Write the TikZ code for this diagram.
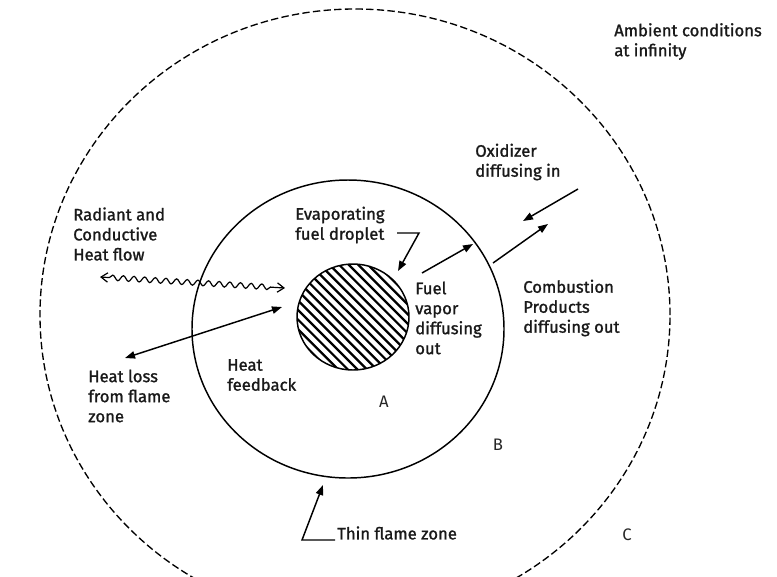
\documentclass[tikz,border=0pt]{standalone}
\usepackage{fontspec}
\setmainfont{Fira Sans}
\newfontfamily\lblfont{Fira Sans}[FakeBold=1.3]
\usetikzlibrary{arrows.meta,decorations.pathmorphing}
\begin{document}
\begin{tikzpicture}[x=0.75pt,y=-0.75pt,
  lbl/.style={anchor=west,align=left,inner sep=0pt,font=\lblfont\fontsize{12.5}{15}\selectfont,text=black!90},
  letter/.style={inner sep=0pt,font=\fontsize{12.5}{15}\selectfont,text=black!85},
  arr/.style={line width=1.1pt,-{Triangle[length=7.5pt,width=5.5pt]}},
  dblarr/.style={line width=1.1pt,{Triangle[length=7.5pt,width=5.5pt]}-{Triangle[length=7.5pt,width=5.5pt]}},
  boundary/.style={line width=1.1pt},
  ambient/.style={line width=1pt,dash pattern=on 5.5pt off 2.5pt},
  wavy/.style={line width=0.9pt,decorate,decoration={snake,amplitude=2pt,segment length=8pt,pre length=7pt,post length=7pt},
    {Straight Barb[length=5pt,width=7pt]}-{Straight Barb[length=5pt,width=7pt]}},
  hatch/.style={line width=1.7pt}
]
\useasboundingbox (0,0) rectangle (777,576);
\clip (0,0) rectangle (777,576);

% centres
\coordinate (cInf) at (355,315);
\coordinate (cFlame) at (348,329);
\coordinate (drop) at (353,317);

% ambient boundary (dashed) and flame zone
\draw[ambient] (cInf) ellipse [x radius=236.25pt, y radius=229.5pt];
\draw[boundary] (cFlame) ellipse [x radius=117pt, y radius=111.75pt];

% droplet with hatching
\begin{scope}
  \clip (drop) ellipse [x radius=42pt, y radius=39.75pt];
  \foreach \k in {-10,...,10}
    \draw[hatch,shift={(drop)}] (\k*9.6-90,-90) -- ++(180,180);
\end{scope}
\draw[boundary] (drop) ellipse [x radius=42pt, y radius=39.75pt];

% labels
\node[lbl] (amb) at (614,41.5) {Ambient conditions\\at infinity};
\node[lbl] (oxi) at (475,162) {Oxidizer\\diffusing in};
\node[lbl] (rad) at (73,234) {Radiant and\\Conductive\\Heat flow};
\node[lbl] (evap) at (295,225) {Evaporating\\fuel droplet};
\node[lbl] (fuel) at (415,318) {Fuel\\vapor\\diffusing\\out};
\node[lbl] (comb) at (523,308) {Combustion\\Products\\diffusing out};
\node[lbl] (loss) at (88,396) {Heat loss\\from flame\\zone};
\node[lbl] (feed) at (227,375) {Heat\\feedback};
\node[lbl] (thin) at (337,533) {Thin flame zone};
\node[letter] (A) at (384,402) {A};
\node[letter] (B) at (498,445) {B};
\node[letter] (C) at (627,535) {C};

% arrow end points
\coordinate (evS) at (397,233);
\coordinate (evK) at (419,233);
\coordinate (evT) at (398,271);
\coordinate (fvS) at (422,273);
\coordinate (fvT) at (473,244);
\coordinate (cpS) at (493,263);
\coordinate (cpT) at (548,224);
\coordinate (oxS) at (578,189);
\coordinate (oxT) at (523,221);
\coordinate (hlT) at (125,358);
\coordinate (hfT) at (282,307);
\coordinate (wL) at (100,277);
\coordinate (wR) at (285,288);
\coordinate (tzS) at (335,540);
\coordinate (tzK) at (302,540);
\coordinate (tzT) at (323,485);

% arrows
\draw[arr] (evS) -- (evK) -- (evT);
\draw[arr] (fvS) -- (fvT);
\draw[arr] (cpS) -- (cpT);
\draw[arr] (oxS) -- (oxT);
\draw[dblarr] (hlT) -- (hfT);
\draw[wavy] (wL) -- (wR);
\draw[arr] (tzS) -- (tzK) -- (tzT);
\end{tikzpicture}
\end{document}
